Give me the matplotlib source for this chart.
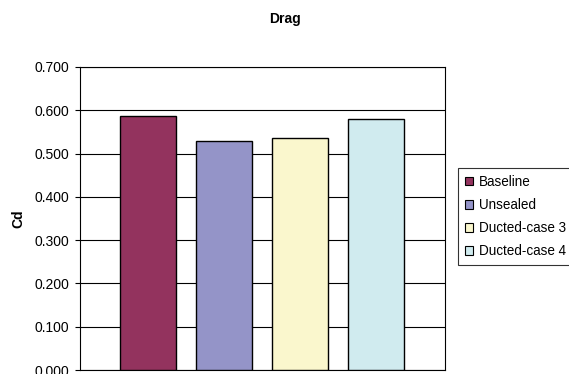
import matplotlib.pyplot as plt
import numpy as np
from matplotlib.patches import Patch

plt.rcParams['font.family'] = ['Liberation Sans', 'DejaVu Sans']

series = ['Baseline', 'Unsealed', 'Ducted-case 3', 'Ducted-case 4']
cd = [0.586, 0.530, 0.536, 0.580]
colours = ['#93335E', '#9494C8', '#FAF7CD', '#D0EBEF']
yticks = np.arange(0, 0.71, 0.1)

fig = plt.figure(figsize=(5.69, 3.74), dpi=100)
ax = fig.add_axes([80/569, 4/374, 365/569, 303/374])

x = np.arange(len(series))
ax.bar(x, cd, width=56/76, color=colours, edgecolor='black', linewidth=1.0, zorder=3)

ax.set_xlim(-68/76, 3 + 69/76)
ax.set_ylim(0, 0.7)
ax.set_yticks(yticks)
ax.set_yticklabels(['%.3f' % v for v in yticks], fontsize=10)
ax.set_xticks([])
ax.grid(axis='y', color='black', linewidth=0.8, zorder=0)
ax.tick_params(axis='y', length=3.6, width=0.8, pad=4)
for s in ax.spines.values():
	s.set_linewidth(0.8)

fig.text(18/569, 1 - 219/374, 'Cd', ha='center', va='center', rotation=90,
	fontsize=10, fontweight='bold')
fig.text(285/569, 1 - 19/374, 'Drag', ha='center', va='center', fontsize=10, fontweight='bold')

handles = [Patch(facecolor=c, edgecolor='black', linewidth=0.8) for c in colours]
leg = fig.legend(handles, series, loc='upper left', bbox_to_anchor=(458/569, 1 - 168/374),
	fontsize=9.75, frameon=True, fancybox=False, edgecolor='black', handlelength=0.6,
	handleheight=0.6, handletextpad=0.45, labelspacing=0.68, borderpad=0.5, borderaxespad=0)
leg.get_frame().set_linewidth(0.8)

plt.savefig('out.png', dpi=100)
